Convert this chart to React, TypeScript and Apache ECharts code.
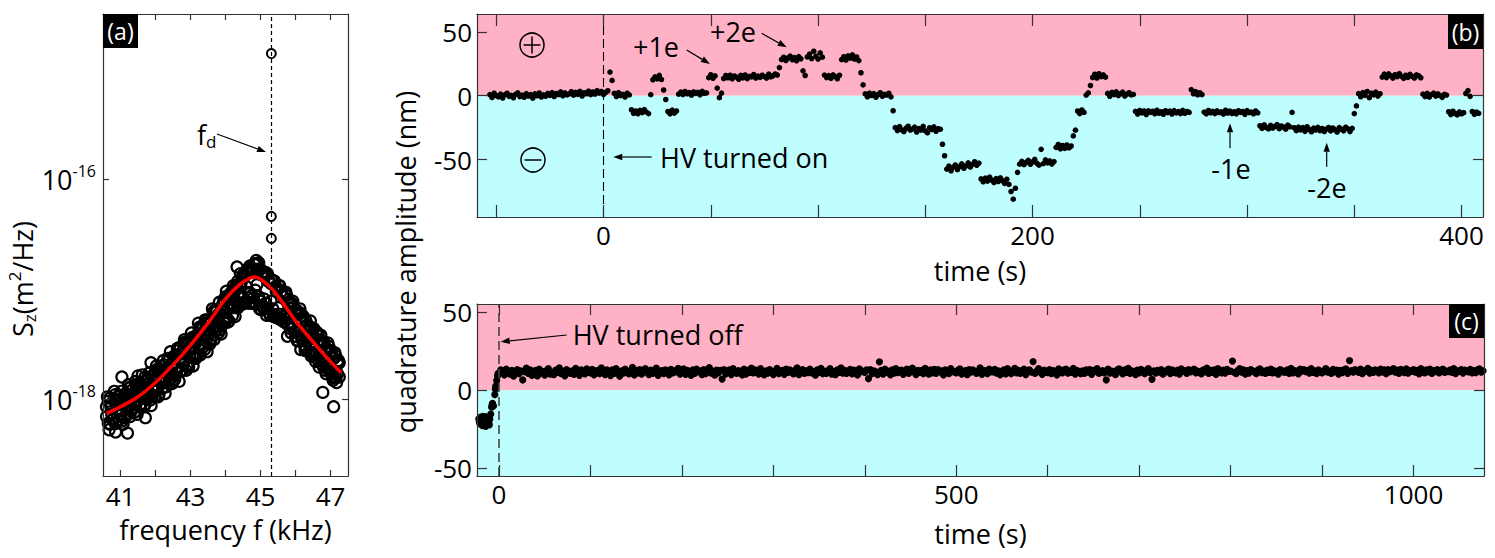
import { useEffect, useRef } from 'react';
import * as echarts from 'echarts';

// ---------------- Panel (a): spectrum (log10 of S_z in m^2/Hz) ----------------
const A_F0 = 40.6;
const A_DF = 0.05;
const A_SWEEP1 = [
  -18.07, -18.22, -17.99, -18.14, -18.01, -18.22, -18.05, -17.97, -18.15, -18.04,
  -18.17, -17.96, -17.99, -18.07, -17.89, -18.09, -17.96, -18.04, -17.87, -18.07,
  -17.88, -17.96, -17.80, -18.00, -17.86, -18.01, -17.79, -17.90, -17.75, -17.92,
  -17.81, -17.70, -17.90, -17.73, -17.82, -17.63, -17.83, -17.69, -17.84, -17.61,
  -17.71, -17.56, -17.75, -17.59, -17.68, -17.48, -17.70, -17.55, -17.46, -17.61,
  -17.47, -17.63, -17.41, -17.50, -17.34, -17.53, -17.38, -17.47, -17.28, -17.50,
  -17.28, -17.35, -17.19, -17.37, -17.23, -17.37, -17.15, -17.27, -17.07, -17.27,
  -17.13, -17.04, -17.24, -17.03, -17.11, -16.93, -17.13, -16.94, -17.13, -16.88,
  -16.98, -16.81, -17.04, -16.83, -17.08, -16.78, -16.96, -16.76, -17.11, -16.86,
  -17.09, -16.85, -17.18, -16.93, -17.11, -16.92, -17.23, -17.02, -17.17, -16.97,
  -17.27, -17.07, -17.24, -17.06, -17.32, -17.18, -17.32, -17.16, -17.43, -17.23,
  -17.37, -17.22, -17.47, -17.35, -17.54, -17.33, -17.50, -17.35, -17.60, -17.45,
  -17.60, -17.41, -17.59, -17.48, -17.71, -17.54, -17.71, -17.52, -17.72, -17.63,
  -17.81, -17.61, -17.77, -17.67,
];
const A_SWEEP2 = [
  -18.16, -18.02, -18.23, -18.05, -18.18, -17.96, -18.09, -18.19, -18.00, -18.20,
  -18.01, -17.95, -18.09, -17.90, -18.11, -17.98, -18.12, -17.90, -18.01, -17.85,
  -18.04, -17.89, -18.05, -17.83, -17.93, -17.76, -17.98, -17.83, -17.93, -17.73,
  -17.96, -17.76, -17.83, -17.69, -17.89, -17.74, -17.64, -17.81, -17.67, -17.82,
  -17.60, -17.72, -17.53, -17.74, -17.55, -17.64, -17.48, -17.71, -17.52, -17.44,
  -17.62, -17.45, -17.60, -17.35, -17.51, -17.36, -17.55, -17.31, -17.42, -17.31,
  -17.45, -17.21, -17.38, -17.20, -17.40, -17.22, -17.33, -17.10, -17.26, -17.10,
  -17.29, -17.09, -17.01, -17.17, -16.97, -17.17, -16.95, -17.06, -16.87, -17.13,
  -16.85, -17.03, -16.79, -17.06, -16.83, -17.01, -16.77, -17.07, -16.82, -17.15,
  -16.86, -17.13, -16.86, -17.22, -16.95, -17.18, -16.93, -17.26, -17.00, -17.23,
  -17.02, -17.25, -17.03, -17.27, -17.13, -17.36, -17.13, -17.35, -17.23, -17.47,
  -17.22, -17.42, -17.29, -17.51, -17.29, -17.47, -17.35, -17.61, -17.42, -17.60,
  -17.39, -17.65, -17.46, -17.63, -17.48, -17.74, -17.56, -17.72, -17.57, -17.80,
  -17.63, -17.80, -17.68, -17.80,
];
const A_F0_3 = 40.625;
const A_SWEEP3 = [
  -17.98, -18.28, -18.07, -18.19, -17.93, -18.22, -17.98, -18.10, -17.93, -18.23,
  -17.99, -18.15, -17.87, -18.16, -17.92, -18.05, -17.84, -18.14, -17.94, -18.06,
  -17.78, -18.07, -17.83, -17.95, -17.76, -18.06, -17.82, -17.98, -17.70, -17.98,
  -17.74, -17.86, -17.65, -17.95, -17.74, -17.86, -17.57, -17.86, -17.61, -17.73,
  -17.54, -17.84, -17.59, -17.74, -17.46, -17.74, -17.50, -17.62, -17.40, -17.70,
  -17.49, -17.60, -17.31, -17.60, -17.35, -17.46, -17.28, -17.57, -17.32, -17.47,
  -17.18, -17.46, -17.21, -17.34, -17.12, -17.41, -17.20, -17.31, -17.02, -17.30,
  -17.05, -17.16, -16.97, -17.25, -17.00, -17.15, -16.86, -17.14, -16.89, -17.11,
  -16.83, -17.13, -16.82, -17.13, -16.77, -17.14, -16.82, -17.18, -16.87, -17.17,
  -16.85, -17.24, -16.93, -17.24, -16.92, -17.25, -16.98, -17.26, -16.97, -17.28,
  -17.05, -17.30, -17.03, -17.32, -17.12, -17.40, -17.11, -17.39, -17.19, -17.47,
  -17.18, -17.45, -17.25, -17.56, -17.33, -17.57, -17.29, -17.58, -17.36, -17.66,
  -17.42, -17.71, -17.42, -17.69, -17.50, -17.77, -17.49, -17.75, -17.56, -17.83,
  -17.58, -17.85, -17.65,
];
const A_EXTRA_F = [40.86, 41.2, 41.71, 47.09, 46.78, 41.04, 41.5, 41.87, 45.39, 45.77, 46.15, 44.88, 44.33, 45.02];
const A_EXTRA_S = [-18.3, -18.31, -18.17, -18.07, -17.94, -17.8, -17.79, -17.67, -17.25, -17.43, -17.55, -16.74, -16.8, -17.19];
const A_DRIVE_F = 45.31;
const A_DRIVE_S = [-14.86, -16.34, -16.54];
const A_FIT_F = [40.6, 41.0, 41.5, 42.0, 42.5, 43.0, 43.5, 44.0, 44.4, 44.7, 44.85, 45.0, 45.3, 45.6, 46.0, 46.5, 47.0, 47.3];
const A_FIT_S = [-18.13, -18.07, -17.98, -17.85, -17.69, -17.51, -17.31, -17.09, -16.96, -16.9, -16.89, -16.91, -16.99, -17.11, -17.29, -17.48, -17.66, -17.76];
const A_XTICKS = [41, 42, 43, 44, 45, 46, 47];
const A_XLABELS = [41, 43, 45, 47];
const A_YTICKS = [-18, -16];

// ---------------- Panel (b): quadrature amplitude (nm), HV on ----------------
const B_T0 = -53;
const B_DT = 1;
const B_VALUES = [
  0.8, -1.4, 2.0, 0.1, -0.9, 1.2, -1.8, 0.6,
  1.9, -0.5, 0.3, -1.6, 1.1, 2.2, -0.7, 0.4, -1.2, 1.6,
  -0.2, 0.9, -1.9, 1.4, 0.0, 2.1, -1.0, 0.7, -0.4, 1.8,
  0.3, 2.4, -0.6, 1.7, 0.9, 3.0, -0.1, 2.2, 0.6, 1.4,
  3.1, 0.4, 2.6, 1.0, 3.4, -0.2, 2.3, 1.5, 3.6, 0.8,
  2.9, 1.2, 4.0, 2.0, 3.3, 0.9, 2.6, 3.9, 18.5, 12.0,
  1.8, -0.6, 2.4, 0.2, 1.1, -1.0, 2.0, 0.6, -11.0, -13.8,
  -12.0, -14.1, -11.5, -13.2, -10.9, -12.8, -14.0, 0.8, 12.5, 14.8,
  13.2, 15.9, 12.7, 4.5, -3.0, -12.4, -14.2, -11.3, -13.6, -12.0,
  1.2, 2.8, 0.9, 3.3, 1.5, 2.4, 0.4, 3.0, 1.8, 2.6,
  0.7, 3.4, 1.9, 2.2, 14.2, 16.4, 13.7, 15.5, 6.0, -1.5,
  2.0, 13.5, 15.8, 14.1, 16.0, 13.2, 15.4, 14.6, 12.9, 15.9,
  14.0, 16.2, 13.4, 15.1, 14.8, 16.6, 13.9, 15.3, 14.4, 16.1,
  15.0, 13.8, 16.9, 14.7, 15.6, 17.0, 16.2, 22.0, 28.4, 30.1,
  27.6, 29.5, 31.0, 28.2, 29.8, 27.4, 30.6, 28.9, 19.5, 15.8,
  30.4, 32.6, 29.1, 34.8, 30.9, 28.7, 33.5, 30.2, 16.1, 14.2,
  15.7, 13.6, 16.3, 14.9, 13.3, 16.0, 28.3, 30.5, 27.9, 31.2,
  29.4, 32.0, 28.6, 30.3, 27.5, 18.0, 8.5, 1.4, -0.8, 2.0,
  0.2, 1.6, -1.2, 0.9, 2.3, -0.5, 1.1, 0.4, 1.9, -0.9,
  -11.8, -25.0, -27.3, -24.2, -26.8, -28.1, -25.5, -23.9, -27.0, -26.2,
  -24.6, -28.4, -25.8, -26.9, -24.0, -27.6, -29.0, -25.1, -26.5, -24.4,
  -27.8, -25.9, -26.3, -38.0, -47.0, -57.5, -55.2, -58.8, -56.0, -54.3,
  -57.9, -55.6, -53.4, -56.8, -54.9, -52.6, -55.8, -53.9, -51.7, -54.5,
  -52.8, -65.2, -67.4, -64.6, -66.9, -63.8, -66.1, -68.0, -65.0, -67.2,
  -64.3, -66.6, -68.7, -65.4, -69.5, -75.0, -81.0, -72.5, -60.0, -53.6,
  -51.4, -54.0, -52.2, -50.6, -53.7, -51.8, -49.9, -52.9, -54.4, -42.0,
  -53.2, -50.3, -52.6, -51.1, -53.5, -51.6, -40.5, -38.2, -41.6, -39.0,
  -41.3, -38.6, -40.9, -39.4, -31.5, -27.0, -12.0, -14.0, -11.2, -13.1,
  0.5, 2.2, 8.0, 14.3, 16.8, 13.9, 17.2, 15.0, 16.3, 14.5,
  1.8, -0.4, 2.6, 0.9, 3.0, 0.2, 1.5, 2.8, -0.2, 1.2,
  2.4, 0.6, 1.0, -12.3, -14.4, -11.6, -13.5, -12.0, -14.8, -11.9,
  -13.0, -12.2, -14.1, -11.4, -13.7, -12.6, -14.5, -11.8, -13.3, -12.1,
  -14.3, -11.7, -13.4, -12.5, -14.0, -11.5, -13.8, -12.4, -13.1, 4.8,
  1.5, 3.2, 0.6, 2.3, 0.9, -12.8, -14.2, -11.6, -13.5, -12.3,
  -14.0, -11.9, -13.2, -12.7, -14.4, -11.4, -13.6, -12.1, -13.9, -12.6,
  -14.2, -11.8, -13.0, -12.4, -14.6, -11.7, -13.3, -12.9, -14.1, -12.0,
  -13.4, -23.5, -25.6, -22.8, -24.9, -26.0, -23.2, -25.3, -24.1, -22.6,
  -25.8, -23.7, -24.5, -26.2, -23.0, -24.4, -13.0, -25.1, -27.4, -24.6,
  -26.8, -25.0, -27.9, -24.3, -26.5, -28.2, -25.4, -26.9, -24.8, -27.3,
  -25.7, -28.0, -26.1, -24.9, -27.6, -25.3, -26.7, -28.4, -25.0, -26.3,
  -27.5, -24.7, -26.0, -28.1, -25.6, -14.0, -8.0, 1.6, -0.8, 2.4,
  0.3, 3.3, -1.5, 1.9, 0.7, 2.8, -0.3, 1.5, 14.6, 16.9,
  14.2, 17.1, 15.5, 13.8, 16.4, 14.9, 17.3, 15.2, 13.6, 16.0,
  14.4, 16.7, 15.1, 13.9, 16.3, 15.6, 14.1, 1.2, -0.6, 1.8,
  -1.0, 0.8, 2.0, -0.3, 1.4, 0.1, -1.3, 1.0, 0.5, -12.6,
  -14.8, -12.2, -13.9, -15.0, -12.7, -14.1, -13.3, 1.7, 4.0, -0.5,
  -12.4, -14.6, -12.9, -13.8,
];
const B_XTICKS = [-50, 0, 50, 100, 150, 200, 250, 300, 350, 400];
const B_XLABELS = [0, 200, 400];
const B_YTICKS = [-50, 0, 50];

// ---------------- Panel (c): quadrature amplitude (nm), HV off ----------------
const C_PRE_T = [-22, -21.5, -21, -20.5, -20, -19.5, -19, -18.5, -18, -17.5, -17, -16.5, -16, -15.5, -15, -14.5, -14, -13.5, -13, -12.5, -12, -11.5, -11, -10.5, -10, -9, -8, -7.5, -7, -6, -4.5, -4, -3.5, -2.5, -1.5, -1];
const C_PRE_V = [-18.5, -20.1, -21.2, -18.0, -17.4, -22.0, -20.6, -19.3, -22.8, -16.8, -18.1, -21.4, -19.9, -18.9, -17.0, -23.2, -21.6, -17.7, -19.2, -20.8, -17.9, -19.5, -20.3, -22.3, -18.6, -15.5, -11.0, -9.4, -8.5, -10.2, -3.0, 0.5, 2.5, 6.0, 9.0, 10.5];
const C_T0 = 0;
const C_DT = 2;
const C_VALUES = [
  10.8, 12.9, 11.2, 9.6, 13.4, 11.9, 10.1, 12.5, 8.9, 11.6,
  13.1, 10.4, 12.2, 6.4, 11.7, 14.0, 10.6, 12.8, 9.3, 11.4,
  12.6, 9.0, 13.3, 10.9, 11.8, 9.5, 12.4, 13.6, 10.2, 11.1,
  9.8, 12.7, 11.3, 14.2, 10.5, 12.0, 9.1, 13.0, 11.5, 10.7,
  12.3, 10.0, 13.8, 11.0, 9.4, 12.9, 11.6, 10.3, 13.5, 12.1,
  10.9, 13.2, 9.7, 11.9, 12.6, 10.4, 14.1, 11.2, 9.9, 12.8,
  11.4, 9.2, 12.9, 10.6, 13.7, 11.1, 8.8, 12.2, 10.8, 13.3,
  12.0, 10.3, 11.7, 14.4, 9.6, 12.5, 11.0, 13.1, 10.1, 11.8,
  13.6, 11.3, 9.9, 12.7, 10.7, 12.1, 14.0, 9.4, 11.9, 12.4,
  10.5, 12.8, 11.4, 9.7, 13.2, 10.9, 12.3, 11.6, 13.9, 10.2,
  11.8, 13.5, 10.0, 12.6, 11.1, 9.3, 12.9, 10.6, 13.4, 11.7,
  12.2, 9.8, 13.1, 10.4, 11.9, 14.3, 10.8, 12.0, 9.5, 12.7,
  11.0, 12.6, 7.0, 13.0, 10.3, 11.5, 12.8, 9.9, 13.6, 11.3,
  10.7, 12.4, 11.8, 9.6, 13.3, 10.1, 12.5, 11.2, 14.0, 10.9,
  12.9, 11.4, 10.2, 13.7, 11.0, 9.7, 12.3, 10.8, 13.1, 11.6,
  9.9, 12.1, 13.8, 10.5, 11.7, 12.6, 10.0, 13.4, 11.3, 12.8,
  11.5, 10.3, 12.7, 14.1, 9.8, 11.9, 13.0, 10.6, 12.2, 11.1,
  13.3, 10.9, 11.6, 9.5, 12.8, 11.2, 13.9, 10.4, 12.0, 10.7,
  12.4, 13.6, 10.1, 11.8, 9.9, 12.9, 11.3, 14.2, 10.8, 12.5,
  10.6, 11.9, 13.2, 10.3, 12.7, 11.0, 9.6, 13.5, 11.7, 12.1,
  11.2, 12.8, 7.2, 13.1, 10.5, 12.3, 11.6, 9.8, 18.0, 12.6,
  10.2, 13.4, 11.5, 12.0, 9.7, 12.9, 10.8, 13.7, 11.1, 12.4,
  12.7, 10.0, 11.9, 13.3, 10.6, 12.2, 14.0, 11.4, 9.9, 12.6,
  11.3, 12.5, 10.4, 13.8, 11.7, 10.1, 12.9, 11.0, 13.2, 10.7,
  13.0, 11.6, 12.3, 9.6, 12.8, 11.2, 10.5, 13.6, 12.0, 11.4,
  10.9, 12.7, 13.5, 10.2, 11.8, 12.4, 9.8, 13.1, 11.5, 12.9,
  12.1, 10.6, 11.3, 14.1, 10.0, 12.6, 11.9, 10.4, 13.4, 11.7,
  11.6, 13.2, 10.8, 12.3, 9.7, 11.1, 12.8, 10.3, 13.7, 12.0,
  10.4, 12.2, 13.9, 11.0, 12.5, 10.7, 11.8, 13.3, 9.9, 12.6,
  12.9, 11.5, 18.2, 10.6, 12.1, 13.6, 11.2, 10.0, 12.7, 11.4,
  11.1, 13.0, 10.5, 12.4, 11.8, 9.6, 13.5, 12.2, 10.9, 12.8,
  13.4, 10.8, 12.0, 11.3, 13.8, 10.2, 12.6, 11.7, 10.4, 12.3,
  10.7, 12.9, 11.4, 13.1, 10.0, 12.5, 11.9, 13.7, 10.6, 11.2,
  12.4, 11.0, 6.4, 13.3, 10.8, 12.1, 11.6, 9.8, 12.9, 13.5,
  11.7, 10.3, 12.8, 11.2, 13.9, 10.6, 12.2, 11.5, 9.9, 12.7,
  10.9, 13.2, 11.8, 10.4, 12.5, 13.6, 11.1, 6.8, 12.3, 10.8,
  12.6, 11.4, 13.0, 10.1, 12.0, 11.7, 13.4, 10.5, 12.8, 11.3,
  11.0, 12.7, 10.2, 13.5, 11.9, 12.4, 10.7, 13.1, 11.6, 12.2,
  13.3, 10.9, 12.1, 11.5, 10.3, 12.9, 11.8, 14.0, 10.6, 12.5,
  11.2, 12.8, 10.0, 13.6, 12.3, 11.0, 12.7, 10.8, 13.2, 11.9,
  12.0, 18.5, 11.3, 10.5, 12.6, 13.7, 11.4, 12.9, 10.2, 12.4,
  10.8, 13.1, 12.2, 11.6, 10.4, 12.8, 13.5, 11.1, 12.0, 10.7,
  12.7, 11.2, 13.4, 10.9, 12.3, 11.8, 10.1, 13.0, 12.5, 11.4,
  11.5, 12.9, 10.6, 13.8, 11.0, 12.4, 11.9, 10.3, 13.3, 12.1,
  13.0, 11.7, 12.5, 10.8, 13.6, 11.3, 12.2, 10.5, 12.8, 11.6,
  10.9, 12.3, 13.7, 11.4, 12.0, 10.6, 13.2, 11.8, 12.7, 10.2,
  12.6, 11.1, 12.9, 13.5, 10.7, 18.8, 12.4, 11.5, 13.1, 12.0,
  11.3, 13.4, 10.5, 12.2, 11.9, 13.8, 10.8, 12.6, 11.2, 12.9,
  12.1, 10.9, 13.3, 11.6, 12.8, 10.4, 13.0, 11.7, 12.3, 13.6,
  11.4, 12.7, 10.6, 13.2, 12.0, 11.1, 13.5, 10.8, 12.4, 11.9,
  13.1, 11.5, 12.6, 10.3, 13.7, 12.2, 11.0, 12.9, 11.6, 13.3,
  10.7, 12.4, 11.8, 13.0, 10.9, 12.5, 13.4, 11.2, 12.1, 11.7,
  12.8, 11.3, 13.6, 10.5, 12.2, 11.9, 13.1, 10.8, 12.7, 12.0,
  11.6, 13.2, 10.9, 12.4, 11.1, 12.8, 13.5, 11.4, 12.3,
];
const C_XTICKS = [0, 100, 200, 300, 400, 500, 600, 700, 800, 900, 1000];
const C_XLABELS = [0, 500, 1000];
const C_YTICKS = [-50, 0, 50];

// ---------------- styling / layout constants ----------------
const FONT = 'Open Sans';
const FRAME = '#333333';
const PINK = '#FFB1C6';
const CYAN = '#BFFEFF';
const A_RANGE = { xmin: 40.5, xmax: 47.5, ymin: -18.7, ymax: -14.5 };
const B_RANGE = { xmin: -59, xmax: 410, ymin: -95, ymax: 64 };
const C_RANGE = { xmin: -24, xmax: 1077, ymin: -55, ymax: 55 };

function xAx(grid: number, r: any, ticks: number[], labels: number[] | null, tickLen: number, pos: string, name?: string, nameGap?: number, margin = 6) {
  return {
    type: 'value', gridIndex: grid, min: r.xmin, max: r.xmax, position: pos, z: 10,
    axisLine: { show: true, onZero: false, lineStyle: { color: FRAME, width: 1.2 } },
    axisTick: { show: true, inside: true, length: tickLen, customValues: ticks, lineStyle: { color: FRAME, width: 1.2 } },
    axisLabel: labels
      ? { show: true, customValues: labels, formatter: (v: number) => String(v), fontSize: 26, lineHeight: 24, fontFamily: FONT, color: '#000', margin }
      : { show: false },
    splitLine: { show: false },
    ...(name ? { name, nameLocation: 'middle', nameGap, nameTextStyle: { fontSize: 27, lineHeight: 26, fontFamily: FONT, color: '#000' } } : {}),
  };
}
function yAx(grid: number, r: any, ticks: number[], labels: number[] | null, tickLen: number, pos: string, extraLabel: any = {}) {
  return {
    type: 'value', gridIndex: grid, min: r.ymin, max: r.ymax, position: pos, z: 10,
    axisLine: { show: true, onZero: false, lineStyle: { color: FRAME, width: 1.2 } },
    axisTick: { show: true, inside: true, length: tickLen, customValues: ticks, lineStyle: { color: FRAME, width: 1.2 } },
    axisLabel: labels
      ? { show: true, customValues: labels, formatter: (v: number) => String(v), fontSize: 26, fontFamily: FONT, color: '#000', margin: 5, ...extraLabel }
      : { show: false },
    splitLine: { show: false },
  };
}

function arrow(x1: number, y1: number, x2: number, y2: number) {
  const ang = Math.atan2(y2 - y1, x2 - x1);
  const L = 9, W = 3.2;
  const bx = x2 - L * Math.cos(ang), by = y2 - L * Math.sin(ang);
  const px = -Math.sin(ang) * W, py = Math.cos(ang) * W;
  return [
    { type: 'line', z: 100, shape: { x1, y1, x2: bx, y2: by }, style: { stroke: '#000', lineWidth: 1.2 } },
    { type: 'polygon', z: 100, shape: { points: [[x2, y2], [bx + px, by + py], [bx - px, by - py]] }, style: { fill: '#000' } },
  ];
}
function label(text: string, x: number, y: number, align = 'center', size = 27) {
  return { type: 'text', z: 100, x, y, style: { text, fontSize: size, fontFamily: FONT, fill: '#000', align, verticalAlign: 'middle' } };
}
function panelTag(text: string, x: number, y: number, w: number, h: number) {
  return [
    { type: 'rect', z: 100, shape: { x, y, width: w, height: h }, style: { fill: '#000' } },
    { type: 'text', z: 101, x: x + w / 2, y: y + h / 2, style: { text, fontSize: 23, fontFamily: FONT, fill: '#fff', align: 'center', verticalAlign: 'middle' } },
  ];
}
function chargeSign(cx: number, cy: number, plus: boolean) {
  const r = 12, l = 8.5;
  const els: any[] = [
    { type: 'circle', z: 100, shape: { cx, cy, r }, style: { fill: 'none', stroke: '#000', lineWidth: 1.5 } },
    { type: 'line', z: 100, shape: { x1: cx - l, y1: cy, x2: cx + l, y2: cy }, style: { stroke: '#000', lineWidth: 1.5 } },
  ];
  if (plus) els.push({ type: 'line', z: 100, shape: { x1: cx, y1: cy - l, x2: cx, y2: cy + l }, style: { stroke: '#000', lineWidth: 1.5 } });
  return els;
}

const SUBSUP = {
  n: { fontSize: 27, fontFamily: FONT, lineHeight: 32, fill: '#000', color: '#000' },
  sub: { fontSize: 17, fontFamily: FONT, lineHeight: 17, verticalAlign: 'bottom', fill: '#000', color: '#000' },
  sup: { fontSize: 17, fontFamily: FONT, lineHeight: 17, verticalAlign: 'top', fill: '#000', color: '#000' },
};

export default function App() {
  const ref = useRef<HTMLDivElement>(null);
  useEffect(() => {
    if (!ref.current) return;
    const chart = echarts.init(ref.current, undefined, { renderer: 'svg' });

    const aScatter: number[][] = [];
    A_SWEEP1.forEach((v, i) => aScatter.push([A_F0 + i * A_DF, v]));
    A_SWEEP2.forEach((v, i) => aScatter.push([A_F0 + i * A_DF, v]));
    A_SWEEP3.forEach((v, i) => aScatter.push([A_F0_3 + i * A_DF, v]));
    A_EXTRA_F.forEach((f, i) => aScatter.push([f, A_EXTRA_S[i]]));
    const aDrive = A_DRIVE_S.map((v) => [A_DRIVE_F, v]);
    const aFit = A_FIT_F.map((f, i) => [f, A_FIT_S[i]]);
    const bData = B_VALUES.map((v, i) => [B_T0 + i * B_DT, v]);
    const cData = C_PRE_T.map((t, i) => [t, C_PRE_V[i]]).concat(C_VALUES.map((v, i) => [C_T0 + i * C_DT, v]));

    const circleStyle = { color: 'rgba(0,0,0,0)', borderColor: '#000', borderWidth: 2.2, opacity: 1 };
    const dotStyle = { color: '#000', opacity: 1 };
    const bgAreas = (r: any) => ({
      silent: true,
      data: [
        [{ xAxis: r.xmin, yAxis: 0, itemStyle: { color: PINK, opacity: 1 } }, { xAxis: r.xmax, yAxis: r.ymax }],
        [{ xAxis: r.xmin, yAxis: r.ymin, itemStyle: { color: CYAN, opacity: 1 } }, { xAxis: r.xmax, yAxis: 0 }],
      ],
    });
    const vDash = (x: number, dash: number[], color: string, width: number) => ({
      silent: true, symbol: ['none', 'none'], label: { show: false },
      lineStyle: { type: dash, color, width, opacity: 1 },
      data: [{ xAxis: x }],
    });

    const option: any = {
      animation: false,
      textStyle: { fontFamily: FONT },
      grid: [
        { left: 103, top: 14, width: 245, height: 462 },
        { left: 477, top: 14, width: 1006, height: 203 },
        { left: 477, top: 304, width: 1007, height: 172 },
      ],
      xAxis: [
        xAx(0, A_RANGE, A_XTICKS, A_XLABELS, 6, 'bottom', 'frequency f (kHz)', 40, 8),
        xAx(0, A_RANGE, A_XTICKS, null, 6, 'top'),
        xAx(1, B_RANGE, B_XTICKS, B_XLABELS, 12, 'bottom', 'time (s)', 40, 6),
        xAx(1, B_RANGE, B_XTICKS, null, 12, 'top'),
        xAx(2, C_RANGE, C_XTICKS, C_XLABELS, 11, 'bottom', 'time (s)', 44, 6),
        xAx(2, C_RANGE, C_XTICKS, null, 11, 'top'),
      ],
      yAxis: [
        yAx(0, A_RANGE, A_YTICKS, A_YTICKS, 6, 'left', {
          margin: 7,
          formatter: (v: number) => `{b|10}{s|${v}}`,
          rich: {
            b: { fontSize: 27, fontFamily: FONT, lineHeight: 32, color: '#000' },
            s: { fontSize: 16, fontFamily: FONT, lineHeight: 16, verticalAlign: 'top', color: '#000' },
          },
        }),
        yAx(0, A_RANGE, A_YTICKS, null, 6, 'right'),
        yAx(1, B_RANGE, B_YTICKS, B_YTICKS, 10, 'left'),
        yAx(1, B_RANGE, B_YTICKS, null, 10, 'right'),
        yAx(2, C_RANGE, C_YTICKS, C_YTICKS, 10, 'left'),
        yAx(2, C_RANGE, C_YTICKS, null, 10, 'right'),
      ],
      series: [
        {
          type: 'scatter', xAxisIndex: 0, yAxisIndex: 0, data: aScatter, symbol: 'circle', symbolSize: 11,
          itemStyle: circleStyle, silent: true, z: 2,
        },
        {
          type: 'scatter', xAxisIndex: 0, yAxisIndex: 0, data: aDrive, symbol: 'circle', symbolSize: 9,
          itemStyle: { color: 'rgba(0,0,0,0)', borderColor: '#000', borderWidth: 2, opacity: 1 }, silent: true, z: 2,
          markLine: vDash(A_DRIVE_F, [4, 3], '#000', 1.2),
        },
        {
          type: 'line', xAxisIndex: 0, yAxisIndex: 0, data: aFit, smooth: 0.35, showSymbol: false, symbol: 'none',
          lineStyle: { color: '#ff0000', width: 3.5, opacity: 1 }, silent: true, z: 3,
        },
        {
          type: 'scatter', xAxisIndex: 2, yAxisIndex: 2, data: [[B_RANGE.xmin, B_RANGE.ymin]], symbolSize: 0,
          silent: true, z: 1, markArea: bgAreas(B_RANGE),
        },
        {
          type: 'scatter', xAxisIndex: 2, yAxisIndex: 2, data: bData, symbol: 'circle', symbolSize: 5.6,
          itemStyle: dotStyle, silent: true, z: 3,
          markLine: vDash(0, [9, 4], '#000', 1.1),
        },
        {
          type: 'scatter', xAxisIndex: 4, yAxisIndex: 4, data: [[C_RANGE.xmin, C_RANGE.ymin]], symbolSize: 0,
          silent: true, z: 1, markArea: bgAreas(C_RANGE),
        },
        {
          type: 'scatter', xAxisIndex: 4, yAxisIndex: 4, data: cData, symbol: 'circle', symbolSize: 7.2,
          itemStyle: dotStyle, silent: true, z: 3,
          markLine: vDash(0, [9, 5], '#444', 1.6),
        },
      ],
      graphic: {
        elements: [
          ...panelTag('(a)', 103, 14, 35, 34),
          ...panelTag('(b)', 1448, 14, 35, 35),
          ...panelTag('(c)', 1449, 304, 35, 34),
          { type: 'text', z: 100, x: 22, y: 279, rotation: Math.PI / 2,
            style: { text: '{n|S}{sub|z}{n|(m}{sup|2}{n|/Hz)}', rich: SUBSUP, align: 'center', verticalAlign: 'middle', fill: '#000' } },
          { type: 'text', z: 100, x: 405, y: 262, rotation: Math.PI / 2,
            style: { text: 'quadrature amplitude (nm)', fontSize: 27, fontFamily: FONT, fill: '#000', align: 'center', verticalAlign: 'middle' } },
          { type: 'text', z: 100, x: 197, y: 134,
            style: { text: '{n|f}{sub|d}', rich: SUBSUP, align: 'left', verticalAlign: 'middle', fill: '#000' } },
          ...arrow(217, 134, 266, 152),
          ...chargeSign(532, 45, true),
          ...chargeSign(533, 160, false),
          label('+1e', 656, 46),
          ...arrow(686.7, 50, 710, 64),
          label('+2e', 733, 31),
          ...arrow(761.7, 33.3, 786.7, 47.3),
          label('HV turned on', 660, 157, 'left'),
          ...arrow(651.7, 157, 613.3, 157),
          label('-1e', 1231, 168),
          ...arrow(1230, 148.3, 1230, 123.3),
          label('-2e', 1327, 187),
          ...arrow(1326.7, 166.7, 1326.7, 142.7),
          label('HV turned off', 572.7, 334, 'left'),
          ...arrow(566.7, 335, 500.7, 341.7),
        ],
      },
    };
    chart.setOption(option);
    return () => chart.dispose();
  }, []);
  return <div ref={ref} style={{ position: 'absolute', left: 0, top: 0, width: 1495, height: 558 }} />;
}
